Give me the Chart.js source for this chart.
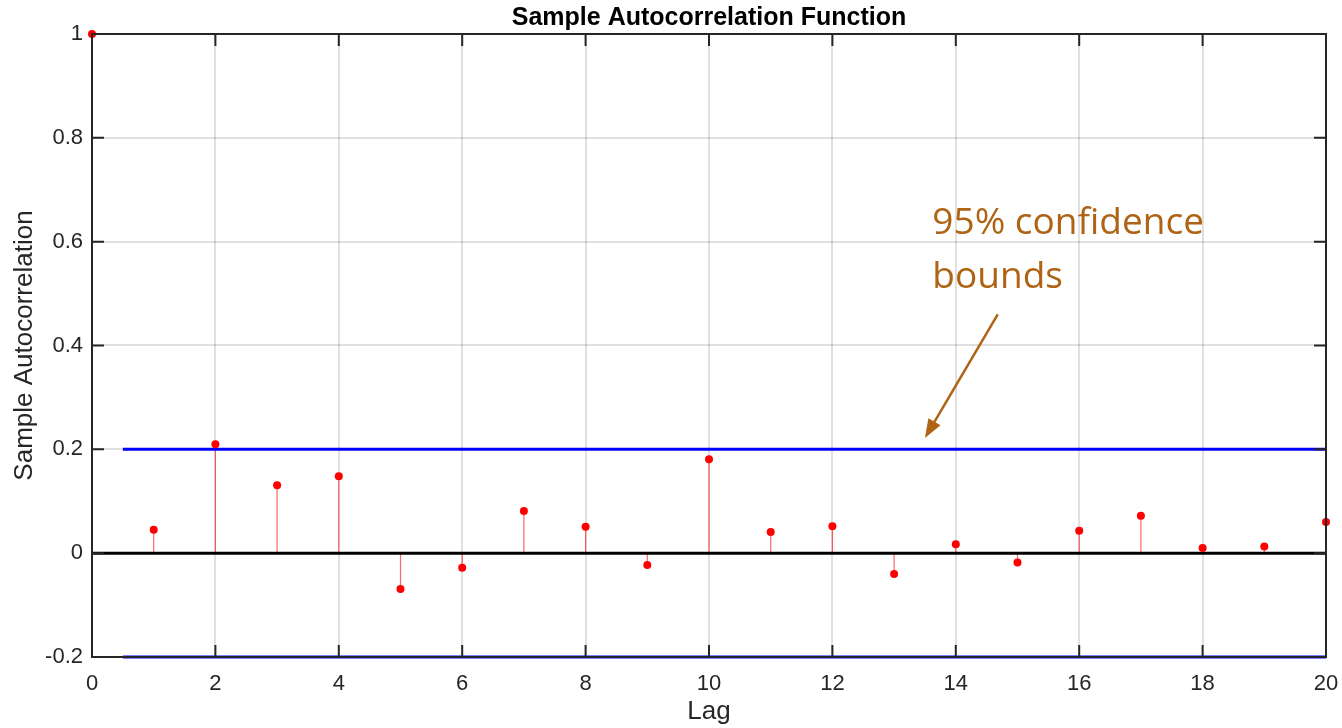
<!DOCTYPE html>
<html>
<head>
<meta charset="utf-8">
<script src="https://cdn.jsdelivr.net/npm/chart.js@4.4.1/dist/chart.umd.min.js"></script>
<style>
  html, body { margin: 0; padding: 0; background: #fff; }
  #wrap { width: 1342px; height: 728px; }
</style>
</head>
<body>
<div id="wrap"><canvas id="acf"></canvas></div>
<script>
const lags = [0, 1, 2, 3, 4, 5, 6, 7, 8, 9, 10, 11, 12, 13, 14, 15, 16, 17, 18, 19, 20];
const acf = [1, 0.045, 0.210, 0.131, 0.148, -0.069, -0.028, 0.081, 0.051, -0.023, 0.181,
             0.041, 0.052, -0.040, 0.017, -0.018, 0.043, 0.072, 0.010, 0.013, 0.060];
const bound = 0.2;
const boundRange = [0.5, 20];
const xTicks = [0, 2, 4, 6, 8, 10, 12, 14, 16, 18, 20];
const yTicks = [-0.2, 0, 0.2, 0.4, 0.6, 0.8, 1];
const chartTitle = 'Sample Autocorrelation Function';
const noteLines = ['95% confidence', 'bounds'];

const tickColor = '#262626';
const fontFam = 'Liberation Sans, Arial, sans-serif';

// stems: one segment per lag, broken by nulls
const stems = [];
lags.forEach((l, i) => {
  stems.push({ x: l, y: 0 }, { x: l, y: acf[i] }, { x: l, y: null });
});
const points = lags.map((l, i) => ({ x: l, y: acf[i] }));

// MATLAB-style box, inward ticks, title over the axes and the arrow note
const matlabBox = {
  id: 'matlabBox',
  afterDatasetsDraw(chart) {
    const { ctx, chartArea: a, scales: { x, y } } = chart;
    ctx.save();
    ctx.strokeStyle = tickColor;
    ctx.lineWidth = 2;
    ctx.strokeRect(a.left, a.top, a.right - a.left, a.bottom - a.top);
    ctx.beginPath();
    xTicks.forEach(t => {
      const px = x.getPixelForValue(t);
      ctx.moveTo(px, a.bottom); ctx.lineTo(px, a.bottom - 12);
      ctx.moveTo(px, a.top); ctx.lineTo(px, a.top + 12);
    });
    yTicks.forEach(t => {
      const py = y.getPixelForValue(t);
      ctx.moveTo(a.left, py); ctx.lineTo(a.left + 12, py);
      ctx.moveTo(a.right, py); ctx.lineTo(a.right - 12, py);
    });
    ctx.stroke();

    ctx.fillStyle = '#000';
    ctx.font = 'bold 25px ' + fontFam;
    ctx.textAlign = 'center';
    ctx.textBaseline = 'middle';
    ctx.fillText(chartTitle, (a.left + a.right) / 2, a.top - 16);

    // annotation
    const col = '#AE6414';
    ctx.fillStyle = col;
    ctx.strokeStyle = col;
    ctx.font = '37px "Open Sans", sans-serif';
    ctx.textAlign = 'left';
    ctx.fillText(noteLines[0], x.getPixelForValue(13.62), y.getPixelForValue(0.636));
    ctx.fillText(noteLines[1], x.getPixelForValue(13.62), y.getPixelForValue(0.532));
    const x0 = x.getPixelForValue(14.68), y0 = y.getPixelForValue(0.46);
    const x1 = x.getPixelForValue(13.50), y1 = y.getPixelForValue(0.222);
    const ang = Math.atan2(y1 - y0, x1 - x0);
    ctx.lineWidth = 2.5;
    ctx.beginPath();
    ctx.moveTo(x0, y0);
    ctx.lineTo(x1 - 12 * Math.cos(ang), y1 - 12 * Math.sin(ang));
    ctx.stroke();
    ctx.beginPath();
    ctx.moveTo(x1, y1);
    ctx.lineTo(x1 - 20 * Math.cos(ang - 0.36), y1 - 20 * Math.sin(ang - 0.36));
    ctx.lineTo(x1 - 20 * Math.cos(ang + 0.36), y1 - 20 * Math.sin(ang + 0.36));
    ctx.closePath();
    ctx.fill();
    ctx.restore();
  }
};

new Chart(document.getElementById('acf'), {
  type: 'scatter',
  data: {
    datasets: [
      {
        label: 'ACF',
        data: points,
        showLine: false,
        pointRadius: 4,
        pointBackgroundColor: '#ff0000',
        pointBorderWidth: 0,
        clip: false,
        order: 0
      },
      {
        label: 'Upper bound',
        data: boundRange.map(v => ({ x: v, y: bound })),
        showLine: true,
        borderColor: '#0000ff',
        borderWidth: 3,
        pointRadius: 0,
        order: 1
      },
      {
        label: 'Lower bound',
        data: boundRange.map(v => ({ x: v, y: -bound })),
        showLine: true,
        borderColor: '#0000ff',
        borderWidth: 3,
        pointRadius: 0,
        clip: false,
        order: 1
      },
      {
        label: 'Zero',
        data: [{ x: lags[0], y: 0 }, { x: lags[lags.length - 1], y: 0 }],
        showLine: true,
        borderColor: '#000000',
        borderWidth: 3,
        pointRadius: 0,
        order: 2
      },
      {
        label: 'Stems',
        data: stems,
        showLine: true,
        spanGaps: false,
        borderColor: 'rgba(255,0,0,0.6)',
        borderWidth: 1.2,
        pointRadius: 0,
        order: 3
      }
    ]
  },
  options: {
    responsive: true,
    maintainAspectRatio: false,
    animation: false,
    layout: { padding: { left: 0, right: 16, top: 34, bottom: 1 } },
    plugins: {
      legend: { display: false },
      tooltip: { enabled: false },
      title: { display: false }
    },
    scales: {
      x: {
        type: 'linear',
        min: 0,
        max: 20,
        afterBuildTicks: s => { s.ticks = xTicks.map(v => ({ value: v })); },
        afterFit: s => { s.height = 70; s.paddingLeft = 0; s.paddingRight = 0; },
        grid: { color: 'rgba(0,0,0,0.12)', lineWidth: 2, drawTicks: false },
        border: { display: false },
        ticks: {
          color: tickColor,
          padding: 14,
          maxRotation: 0,
          font: { family: fontFam, size: 22 }
        },
        title: {
          display: true,
          text: 'Lag',
          color: tickColor,
          padding: 0,
          font: { family: fontFam, size: 26 }
        }
      },
      y: {
        type: 'linear',
        min: -0.2,
        max: 1,
        afterBuildTicks: s => { s.ticks = yTicks.map(v => ({ value: v })); },
        afterFit: s => { s.width = 92; s.paddingTop = 0; s.paddingBottom = 0; },
        grid: { color: 'rgba(0,0,0,0.12)', lineWidth: 2, drawTicks: false },
        border: { display: false },
        ticks: {
          color: tickColor,
          padding: 9,
          callback: v => String(Math.round(v * 10) / 10),
          font: { family: fontFam, size: 22 }
        },
        title: {
          display: true,
          text: 'Sample Autocorrelation',
          color: tickColor,
          padding: { top: 9, bottom: 0 },
          font: { family: fontFam, size: 26 }
        }
      }
    }
  },
  plugins: [matlabBox]
});
</script>
</body>
</html>
